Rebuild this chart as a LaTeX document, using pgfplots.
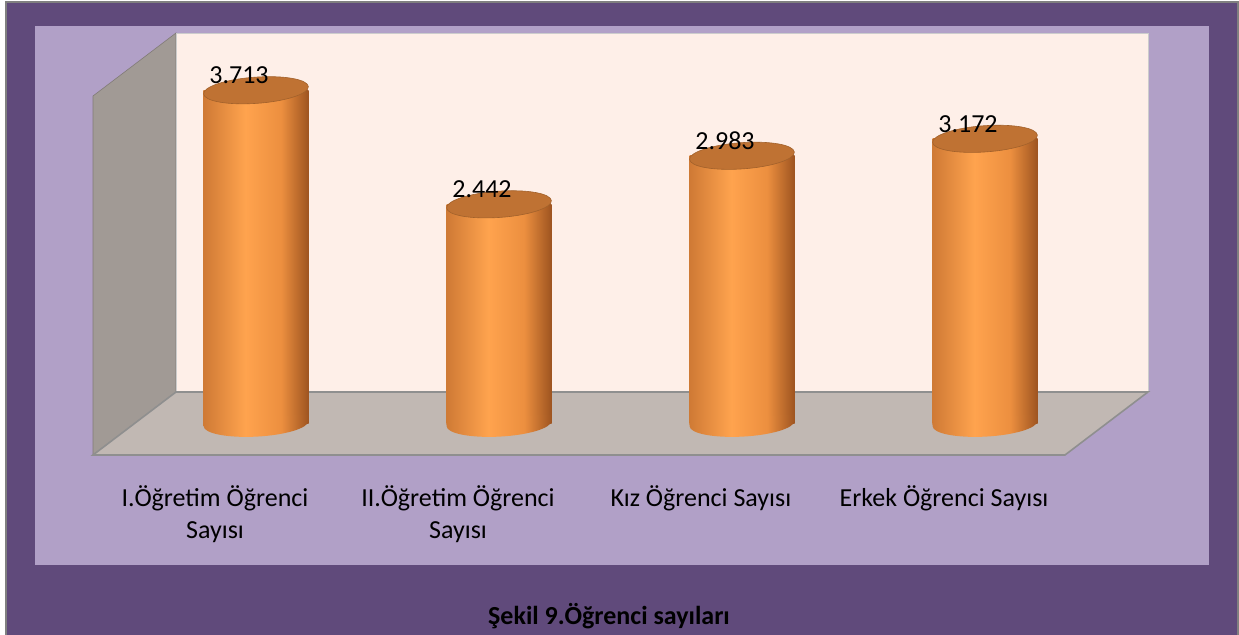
\documentclass[border=0pt]{standalone}
\usepackage{fontspec}
\setmainfont{Carlito}
\usepackage{pgfplots}
\pgfplotsset{compat=1.18}

\definecolor{frameDark}{HTML}{604A7B}
\definecolor{frameLight}{HTML}{B1A0C7}
\definecolor{backWall}{HTML}{FEEFE8}
\definecolor{sideWall}{HTML}{A19A95}
\definecolor{floorCol}{HTML}{C1B8B3}
\definecolor{edgeCol}{HTML}{8F8F8F}
\definecolor{cylL}{HTML}{CF7A35}
\definecolor{cylM}{HTML}{FFA34E}
\definecolor{cylM2}{HTML}{EC8F3F}
\definecolor{cylR}{HTML}{9E5420}
\definecolor{cylTop}{HTML}{BF7233}

% left-to-right shading of the cylinder body (visible part is 25bp..75bp)
\pgfdeclarehorizontalshading{cylshade}{100bp}{color(0bp)=(cylL); color(25bp)=(cylL);
  color(45bp)=(cylM); color(62bp)=(cylM2); color(75bp)=(cylR); color(100bp)=(cylR)}

% lower half of the base ellipse, shaded like the body
\pgfdeclareplotmark{cylbottom}{%
  \pgfpathmoveto{\pgfqpoint{-\pgfplotmarksize}{0.12\pgfplotmarksize}}%
  \pgfpathlineto{\pgfqpoint{-\pgfplotmarksize}{0pt}}%
  \pgfpatharc{180}{360}{\pgfplotmarksize and 0.25\pgfplotmarksize}%
  \pgfpathlineto{\pgfqpoint{\pgfplotmarksize}{0.12\pgfplotmarksize}}%
  \pgfpathclose
  \pgfshadepath{cylshade}{0}%
  \pgfusepath{discard}%
}

\begin{document}
\begin{tikzpicture}
% frame and 3d walls, in reference pixels (1px = 0.5pt)
\begin{scope}[x=0.5pt,y=-0.5pt]
  \useasboundingbox (0,0) rectangle (1239,635);
  \fill[white] (0,0) rectangle (1239,635);
  \filldraw[fill=frameDark, draw=gray, line width=1pt] (5.5,2.5) rectangle (1237.5,640);
  \fill[frameLight] (35,26) rectangle (1209,565);
  \filldraw[fill=sideWall, draw=sideWall!80!black, line width=0.3pt]
    (93,96) -- (176,33) -- (176,392) -- (93,455) -- cycle;
  \filldraw[fill=backWall, draw=gray!40, line width=0.3pt] (176,33) rectangle (1148,392);
  \filldraw[fill=floorCol, draw=edgeCol, line width=0.8pt]
    (93,455) -- (176,392) -- (1148,392) -- (1065,455) -- cycle;
  \node[anchor=base, font=\fontsize{13pt}{16pt}\selectfont\bfseries] at (609,625)
    {Şekil 9.Öğrenci sayıları};
\end{scope}

\begin{axis}[
  at={(67.25pt,-211.75pt)}, anchor=south west,
  scale only axis,
  width=486pt, height=179.5pt,
  xmin=-0.5, xmax=3.5,
  ymin=0, ymax=4000,
  clip=false,
  axis line style={draw=none},
  tick style={draw=none},
  ytick=\empty,
  xtick={0,1,2,3},
  xticklabels={{I.Öğretim Öğrenci\\Sayısı},{II.Öğretim Öğrenci\\Sayısı},{Kız Öğrenci Sayısı},{Erkek Öğrenci Sayısı}},
  xticklabel style={align=center, anchor=north, inner sep=0pt, xshift=-20.5pt, yshift=-30.8pt,
    font=\fontsize{13pt}{16pt}\selectfont},
  /pgf/number format/1000 sep={.},
  /pgf/number format/assume math mode=true,
  cyl/.style={ybar, bar width=52.5pt, bar shift=0pt, draw=none, shading=cylshade},
]
  % cylinder bodies
  \addplot[cyl] coordinates {(0,3713)};
  \addplot[cyl] coordinates {(1,2442)};
  \addplot[cyl] coordinates {(2,2983)};
  \addplot[cyl] coordinates {(3,3172)};
  % rounded bottoms
  \addplot[only marks, mark=cylbottom, mark size=26.25pt, mark options={rotate=3}]
    coordinates {(0,0) (1,0) (2,0) (3,0)};
  % top caps with value labels
  \addplot[only marks, mark=*, mark size=26.25pt,
    mark options={fill=cylTop, draw=cylTop!85!black, line width=0.3pt, rotate=4, yscale=0.25},
    nodes near coords,
    every node near coord/.append style={anchor=base, xshift=-8.5pt, yshift=3.25pt,
      text=black, font=\fontsize{13pt}{16pt}\selectfont}]
    coordinates {(0,3713) (1,2442) (2,2983) (3,3172)};
\end{axis}
\end{tikzpicture}
\end{document}
